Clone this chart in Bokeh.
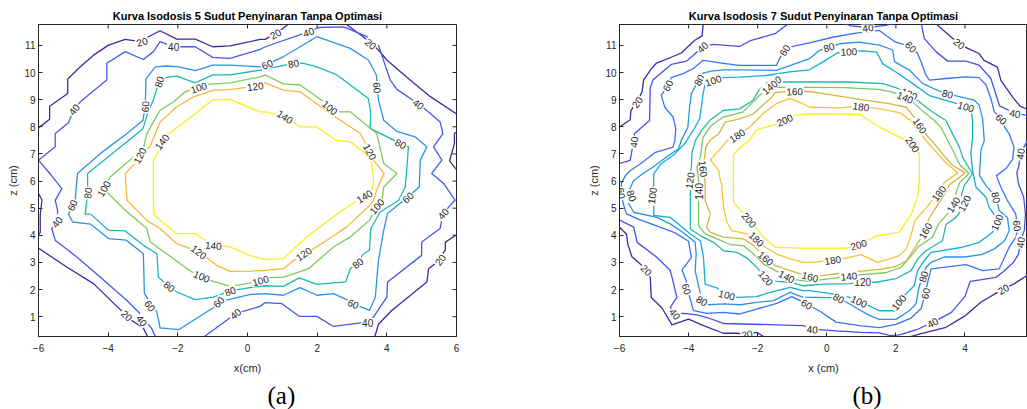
import math
from bokeh.plotting import figure
from bokeh.models import ColumnDataSource, Range1d, FixedTicker, Title
from bokeh.layouts import row
from bokeh.embed import file_html
from bokeh.resources import INLINE

# ---------------- data ----------------
TITLE_A = "Kurva Isodosis 5 Sudut Penyinaran Tanpa Optimasi"
TITLE_B = "Kurva Isodosis 7 Sudut Penyinaran Tanpa Optimasi"
X_TICKS = [-6, -4, -2, 0, 2, 4, 6]
Z_TICKS = [1, 2, 3, 4, 5, 6, 7, 8, 9, 10, 11]
LEVELS_A = [20, 40, 60, 80, 100, 120, 140]
LEVELS_B = [20, 40, 60, 80, 100, 120, 140, 160, 180, 200]
COLORS_A = ["#3e2aa2", "#4658f0", "#2a93e8", "#16bcb4", "#80ca58", "#f9b63c", "#f6f01c"]
COLORS_B = ["#3e2aa2", "#4650ea", "#3774f3", "#2994ea", "#14aed6", "#22bba2", "#7cc860", "#d0b83e", "#f8c233", "#f5f01c"]

# ---- panel (a) isodose lines (x, z in cm) ----
a20_tl = [(-6, 7.96), (-5.68, 8.28), (-5.68, 8.76), (-5.16, 9.23), (-5.16, 9.76), (-4.80, 10.21), (-4.42, 10.64),
          (-3.99, 11.01), (-3.51, 11.22), (-3.22, 11.17), (-2.84, 11.32), (-2.51, 11.54), (-2.03, 11.23), (-1.50, 11.23),
          (-1.0, 10.95), (-0.50, 10.98), (0.36, 11.22), (0.51, 11.22), (1.03, 11.63), (1.23, 11.85)]
a20_tr = [(2.76, 11.85), (3.33, 11.31), (3.76, 10.83), (4.0, 10.46), (4.67, 9.72), (5.25, 9.11), (6.05, 8.43)]
a20_r = [(6.05, 7.85), (5.94, 7.75), (5.94, 7.38), (5.80, 6.74), (6.05, 6.34)]
a20_l = [(-6.05, 5.66), (-5.9, 5.3), (-5.95, 4.75), (-5.95, 4.1), (-6.05, 3.95)]
a20_bl = [(-6.05, 3.57), (-5.19, 2.83), (-4.42, 2.22), (-3.75, 1.38), (-3.32, 0.86), (-2.99, 0.58), (-2.84, 0.2)]
a20_br = [(3.64, 0.2), (3.76, 0.72), (4.14, 1.23), (5.15, 2.28), (5.20, 2.77), (5.39, 2.96), (5.68, 3.45),
          (5.68, 3.75), (6.05, 4.06)]
a40 = [(-2.62, 0.2), (-2.75, 0.56), (-3.08, 1.11), (-3.46, 1.60), (-4.23, 2.46), (-4.90, 3.20), (-5.52, 3.82),
       (-5.62, 4.25), (-5.47, 4.49), (-5.45, 4.9), (-5.52, 5.29), (-5.33, 5.72), (-5.67, 6.27), (-6.0, 6.77),
       (-5.52, 7.26), (-5.52, 7.75), (-5.14, 8.15), (-4.98, 8.64), (-4.80, 8.92), (-4.04, 9.72), (-4.04, 10.34),
       (-3.51, 10.77), (-2.99, 10.48), (-2.70, 10.77), (-2.51, 11.14), (-2.12, 10.95), (-1.50, 10.95), (-1.0, 10.56),
       (-0.50, 10.52), (0.36, 10.85), (0.51, 10.95), (1.75, 11.50), (2.04, 11.66), (2.76, 11.68), (3.43, 11.32),
       (3.76, 11.01), (4.0, 10.09), (4.10, 9.72), (4.29, 9.38), (4.91, 8.84), (5.25, 8.49), (5.53, 8.18),
       (5.61, 7.75), (5.34, 7.26), (5.58, 6.77), (5.29, 6.28), (5.63, 5.91), (5.96, 5.30), (5.61, 4.80),
       (5.53, 4.25), (5.0, 3.75), (5.0, 3.26), (4.02, 2.28), (4.0, 1.72), (3.62, 0.99), (3.45, 0.77), (3.24, 0.77),
       (2.47, 0.64), (1.99, 1.01), (1.49, 1.01), (0.99, 1.48), (0.51, 1.52), (0.36, 1.38), (-0.35, 1.11),
       (-0.50, 0.96), (-1.31, 0.2)]
a60 = [(-1.98, 0.52), (-2.51, 0.59), (-2.60, 1.17), (-2.75, 1.45), (-2.96, 1.85), (-2.99, 3.32), (-3.48, 3.82),
       (-3.99, 3.88), (-4.50, 4.41), (-5.02, 4.49), (-5.14, 4.78), (-5.04, 5.11), (-4.95, 5.29), (-4.88, 6.28),
       (-4.23, 7.01), (-3.46, 7.75), (-3.0, 8.24), (-2.94, 8.74), (-2.92, 9.35), (-2.92, 9.76), (-2.65, 10.21),
       (-2.32, 10.24), (-1.98, 10.21), (-1.50, 10.07), (-1.0, 10.27), (-0.50, 10.27), (0.36, 10.21), (0.56, 10.31),
       (1.03, 10.58), (1.99, 11.32), (2.95, 10.89), (3.47, 10.46), (3.70, 9.91), (3.73, 9.45), (3.76, 8.99),
       (3.91, 8.24), (4.29, 7.83), (4.81, 7.63), (5.15, 7.26), (4.96, 6.77), (4.93, 5.78), (4.6, 5.40),
       (4.02, 4.80), (3.91, 4.18), (3.76, 3.08), (3.67, 1.72), (3.50, 1.23), (3.04, 1.48), (2.80, 1.66),
       (2.47, 1.85), (1.99, 1.79), (1.51, 2.07), (1.03, 1.79), (0.51, 1.85), (0.08, 1.82), (-0.83, 1.54),
       (-0.98, 1.33), (-1.98, 0.52)]
a80 = [(-4.50, 4.78), (-4.66, 4.78), (-4.59, 5.56), (-4.59, 6.28), (-3.89, 7.01), (-3.0, 7.93), (-2.87, 8.5),
       (-2.70, 9.0), (-2.54, 9.66), (-2.33, 9.82), (-2.03, 9.87), (-1.50, 9.62), (-1.0, 9.91), (-0.50, 9.91),
       (0.36, 10.09), (1.32, 10.34), (1.61, 10.34), (1.99, 10.21), (2.57, 9.91), (3.47, 9.04), (3.54, 8.49),
       (3.52, 7.94), (3.91, 7.69), (4.40, 7.38), (4.62, 7.26), (4.57, 6.40), (4.53, 5.78), (4.34, 5.29),
       (3.81, 4.86), (3.54, 4.25), (3.50, 3.45), (3.33, 3.32), (3.16, 2.98), (2.95, 2.77), (2.82, 2.28),
       (1.99, 2.19), (1.49, 2.43), (1.03, 2.12), (0.51, 2.14), (0.08, 2.07), (-0.50, 1.95), (-0.98, 1.72),
       (-1.50, 1.63), (-2.03, 1.91), (-2.24, 2.12), (-2.46, 2.34), (-2.56, 2.46), (-2.60, 3.32), (-2.99, 3.63),
       (-3.51, 4.16), (-3.99, 4.19), (-4.50, 4.78)]
a100 = [(-4.13, 5.72), (-3.94, 6.15), (-2.99, 7.20), (-2.89, 7.75), (-2.51, 8.61), (-2.12, 8.92), (-1.79, 9.29),
        (-1.40, 9.45), (-1.11, 9.57), (-0.50, 9.62), (0.36, 9.84), (0.51, 9.91), (1.03, 9.58), (1.51, 9.54),
        (2.13, 8.98), (2.37, 8.71), (2.66, 8.55), (2.95, 8.55), (3.71, 7.75), (3.91, 6.65), (4.29, 6.28),
        (3.91, 5.78), (3.86, 5.29), (3.71, 5.07), (3.50, 4.55), (2.95, 3.94), (2.47, 3.57), (1.75, 2.77),
        (1.49, 2.65), (1.03, 2.46), (0.65, 2.44), (0.37, 2.34), (-0.02, 2.22), (-0.50, 2.12), (-1.07, 2.34),
        (-1.31, 2.49), (-1.60, 2.65), (-2.79, 3.75), (-2.89, 4.25), (-3.51, 4.92), (-3.80, 5.29), (-4.13, 5.72)]
a120 = [(-3.51, 6.28), (-3.22, 6.65), (-3.10, 6.94), (-2.80, 7.26), (-2.51, 8.18), (-2.03, 8.74), (-1.55, 9.10),
        (-0.98, 9.35), (-0.50, 9.37), (0.22, 9.50), (0.51, 9.62), (1.03, 9.35), (1.51, 9.29), (2.37, 8.49),
        (2.95, 8.0), (3.24, 7.75), (3.52, 7.08), (3.62, 6.77), (3.92, 6.28), (3.71, 5.66), (3.62, 5.29),
        (3.47, 5.05), (2.85, 4.31), (2.28, 3.82), (1.90, 3.51), (1.61, 3.32), (1.27, 3.02), (1.03, 2.77),
        (0.51, 2.71), (0.08, 2.68), (-0.50, 2.67), (-0.88, 2.89), (-1.39, 3.39), (-2.03, 3.69), (-2.51, 4.25),
        (-2.89, 4.55), (-3.46, 5.29), (-3.51, 6.28)]
a140 = [(-2.70, 5.29), (-2.70, 6.77), (-2.56, 7.08), (-2.46, 7.45), (-2.32, 7.69), (-1.74, 8.24), (-1.02, 8.98),
        (-0.50, 9.01), (0.36, 8.55), (0.51, 8.55), (1.08, 8.37), (1.37, 8.12), (1.51, 8.0), (1.99, 8.0),
        (2.52, 7.51), (2.95, 7.45), (3.38, 7.02), (3.57, 6.65), (3.62, 6.03), (3.57, 5.66), (3.35, 5.44),
        (3.09, 5.23), (2.52, 4.74), (1.70, 3.94), (1.03, 3.14), (0.51, 3.11), (0.08, 3.25), (-0.50, 3.57),
        (-0.98, 3.63), (-1.50, 4.06), (-2.03, 4.06), (-2.68, 4.74), (-2.70, 5.29)]

# (level, x, z) of the inline labels of panel (a)
LABELS_A = [(20, -3.03, 11.14), (20, 0.80, 11.43), (20, 3.54, 11.06), (20, -3.46, 1.05), (20, 5.53, 3.10),
            (40, -4.98, 8.64), (40, -2.12, 10.95), (40, 1.75, 11.50), (40, 4.91, 8.84), (40, 5.61, 4.80),
            (40, 3.45, 0.77), (40, -0.35, 1.11), (40, -3.03, 0.86), (40, -5.47, 4.49),
            (60, -5.04, 5.11), (60, -2.94, 8.74), (60, 0.56, 10.31), (60, 3.73, 9.44), (60, 4.6, 5.40),
            (60, 3.04, 1.48), (60, -0.83, 1.54), (60, -2.79, 1.40),
            (80, -4.59, 5.56), (80, -2.54, 9.66), (80, 1.32, 10.34), (80, 4.40, 7.38), (80, 3.16, 2.98),
            (80, -0.50, 1.95), (80, -2.24, 2.12),
            (100, -4.13, 5.72), (100, -1.40, 9.45), (100, 2.37, 8.71), (100, 3.71, 5.07), (100, 0.37, 2.34),
            (100, -1.31, 2.49),
            (120, -3.10, 6.94), (120, 0.22, 9.50), (120, 3.52, 7.08), (120, 1.61, 3.32), (120, -1.39, 3.39),
            (140, -2.46, 7.45), (140, 1.08, 8.37), (140, 3.35, 5.44), (140, -0.98, 3.63)]

# ---- panel (b) isodose lines ----
b20_tl = [(-6.05, 7.95), (-5.69, 8.26), (-5.67, 8.60), (-5.49, 8.91), (-5.35, 9.28), (-5.30, 9.73), (-5.1, 10.1),
          (-4.93, 10.35), (-4.45, 10.59), (-4.21, 10.72), (-3.82, 11.19), (-3.61, 11.35), (-3.57, 11.85)]
b20_tr = [(3.11, 11.85), (3.64, 11.26), (3.84, 11.07), (4.08, 10.89), (4.41, 10.70), (4.55, 10.45), (4.94, 10.20),
          (5.04, 9.71), (5.38, 9.09), (5.6, 8.75), (5.9, 8.6)]
b20_bl = [(-6.05, 4.36), (-5.80, 4.05), (-5.76, 3.68), (-5.64, 3.21), (-5.40, 2.94), (-5.22, 2.72), (-5.11, 2.45),
          (-5.08, 1.71), (-4.77, 1.32), (-4.48, 0.70), (-4.0, 0.91), (-3.57, 0.67), (-2.99, 0.39), (-2.60, 0.39),
          (-2.31, 0.36), (-2.02, 0.42), (-1.74, 0.2)]
b20_br = [(2.24, 0.2), (2.68, 0.36), (3.45, 0.61), (3.98, 1.01), (4.46, 1.53), (4.89, 1.86), (5.11, 2.02),
          (5.42, 2.21), (5.9, 2.6)]
b40_tl = [(-6.05, 6.63), (-5.69, 6.76), (-5.64, 7.13), (-5.59, 7.43), (-5.57, 7.74), (-5.13, 8.23), (-5.11, 9.44),
          (-5.03, 9.73), (-4.50, 10.30), (-4.06, 10.42), (-3.87, 10.63), (-3.60, 10.94), (-3.29, 11.04),
          (-2.52, 10.96), (-2.21, 11.18), (-1.50, 11.43), (-1.06, 11.85)]
b40_top = [(0.4, 11.85), (0.7, 11.72), (1.19, 11.66), (1.7, 11.74), (2.1, 11.85)]
b40_r = [(2.73, 11.85), (2.82, 11.26), (3.16, 10.77), (3.50, 10.42), (4.03, 10.42), (4.41, 10.27), (4.75, 9.78),
         (4.9, 9.17), (5.0, 8.77), (5.45, 8.50), (5.9, 8.40)]
b40 = [(-6.05, 4.60), (-5.59, 4.30), (-5.49, 3.74), (-4.92, 3.19), (-4.53, 2.70), (-4.43, 2.20), (-4.34, 1.71),
       (-4.53, 1.34), (-4.39, 1.10), (-4.14, 1.12), (-3.76, 1.07), (-3.47, 0.97), (-2.99, 0.75), (-2.41, 0.73),
       (-1.45, 0.70), (-0.68, 0.67), (-0.42, 0.54), (0.27, 0.48), (1.0, 0.42), (1.52, 0.40), (1.85, 0.30),
       (2.1, 0.33), (2.6, 0.52), (3.06, 0.79), (3.6, 1.15), (4.0, 1.75), (4.15, 2.3), (4.4, 2.35), (4.89, 2.45),
       (5.1, 2.65), (5.4, 3.0), (5.55, 3.3), (5.6, 3.74), (5.72, 4.2), (5.75, 4.8), (5.7, 5.4), (5.55, 5.9),
       (5.5, 6.3), (5.56, 6.55), (5.6, 7.0), (5.9, 7.7)]
b60 = [(-4.61, 9.52), (-4.50, 9.81), (-4.16, 9.96), (-3.87, 10.14), (-3.58, 10.45), (-3.05, 10.35), (-2.52, 10.26),
       (-1.46, 10.26), (-1.37, 10.51), (-1.22, 10.82), (-0.98, 10.96), (-0.50, 11.09), (0.17, 11.3), (0.85, 11.45),
       (1.52, 11.55), (1.96, 11.14), (2.44, 10.95), (2.63, 10.70), (2.73, 10.40), (2.87, 9.90), (2.97, 9.72),
       (3.45, 9.78), (4.03, 9.84), (4.41, 9.81), (4.61, 9.54), (4.75, 9.04), (4.85, 8.55), (5.06, 8.29),
       (5.09, 8.11), (5.28, 7.74), (5.42, 7.25), (5.38, 6.8), (5.18, 6.45), (4.91, 6.2), (5.04, 5.77),
       (5.23, 5.28), (5.47, 4.79), (5.52, 4.30), (5.48, 3.93), (5.28, 3.56), (4.99, 2.76), (4.51, 2.70),
       (4.03, 2.92), (3.02, 2.76), (2.92, 2.27), (2.85, 1.86), (2.73, 1.3), (2.44, 0.95), (2.0, 0.72),
       (1.52, 0.60), (1.0, 0.66), (0.27, 0.80), (-0.2, 1.2), (-0.58, 1.47), (-1.01, 1.74), (-1.45, 1.49),
       (-2.03, 1.28), (-2.51, 1.10), (-2.99, 1.16), (-3.47, 1.12), (-3.86, 1.22), (-3.95, 1.65), (-4.05, 2.02),
       (-4.07, 2.33), (-4.19, 2.72), (-3.92, 3.19), (-4.0, 3.78), (-4.39, 4.09), (-4.77, 4.27), (-5.40, 4.57),
       (-5.80, 4.79), (-5.9, 5.2), (-5.94, 5.55), (-5.95, 5.9), (-5.83, 6.2), (-5.69, 6.39), (-5.40, 6.63),
       (-4.96, 7.06), (-4.45, 7.25), (-4.40, 7.49), (-4.37, 7.93), (-4.45, 8.36), (-4.69, 8.72), (-4.79, 9.16),
       (-4.61, 9.52)]
b80 = [(-3.70, 9.73), (-3.58, 9.98), (-3.34, 10.05), (-3.0, 10.10), (-2.52, 10.10), (-1.46, 10.08), (-1.13, 10.23),
       (-0.5, 10.51), (-0.21, 10.82), (0.06, 10.94), (0.37, 11.06), (0.94, 11.12), (1.52, 11.01), (1.91, 10.83),
       (1.96, 10.40), (2.39, 10.09), (2.77, 9.60), (3.26, 9.31), (3.50, 9.22), (3.74, 9.14), (4.27, 8.98),
       (4.41, 8.80), (4.51, 8.31), (4.56, 7.49), (4.46, 7.13), (4.42, 6.2), (4.61, 5.83), (4.91, 5.40),
       (4.99, 4.91), (5.23, 4.66), (5.28, 4.17), (5.15, 3.8), (4.85, 3.5), (4.5, 3.3), (4.0, 3.2), (3.4, 3.2),
       (3.02, 3.0), (2.87, 2.82), (2.79, 2.48), (2.68, 2.14), (2.58, 1.47), (2.39, 1.22), (2.0, 0.9), (1.52, 0.9),
       (1.23, 1.05), (0.66, 1.47), (0.35, 1.69), (-0.31, 1.71), (-0.68, 1.71), (-1.06, 1.90), (-1.54, 1.59),
       (-2.03, 1.53), (-2.51, 1.44), (-2.99, 1.47), (-3.42, 1.44), (-3.61, 1.59), (-3.66, 1.84), (-3.71, 2.14),
       (-3.81, 2.70), (-3.78, 3.31), (-3.81, 3.74), (-4.10, 4.05), (-4.53, 4.42), (-4.92, 4.66), (-5.59, 4.85),
       (-5.73, 5.16), (-5.64, 5.46), (-5.70, 5.7), (-5.6, 6.0), (-5.35, 6.25), (-5.05, 6.5), (-4.65, 6.88),
       (-4.29, 7.19), (-4.21, 7.50), (-4.02, 7.99), (-3.97, 8.73), (-3.92, 9.22), (-3.82, 9.46), (-3.70, 9.73)]
b100 = [(-3.29, 9.71), (-3.05, 9.81), (-2.52, 9.83), (-1.75, 9.89), (-1.08, 10.02), (-0.5, 10.1), (-0.1, 10.4),
        (0.3, 10.72), (0.64, 10.78), (1.04, 10.80), (1.45, 10.75), (1.62, 10.32), (2.0, 10.02), (2.49, 9.59),
        (2.97, 9.15), (3.45, 8.97), (4.03, 8.75), (4.18, 8.62), (4.22, 8.23), (4.22, 7.62), (4.17, 7.0),
        (4.22, 6.39), (4.32, 5.77), (4.61, 5.40), (4.70, 5.03), (4.85, 4.75), (4.92, 4.48), (4.80, 4.11),
        (4.41, 3.74), (3.93, 3.56), (3.02, 3.37), (2.82, 3.07), (2.63, 2.70), (2.53, 2.14), (2.29, 1.84),
        (2.08, 1.53), (1.96, 1.22), (1.52, 1.22), (1.23, 1.40), (0.94, 1.57), (0.66, 1.71), (0.17, 1.84),
        (-0.50, 1.96), (-0.68, 1.96), (-1.06, 2.08), (-1.64, 1.90), (-2.03, 1.74), (-2.60, 1.71), (-2.89, 1.81),
        (-3.18, 2.06), (-3.52, 2.20), (-3.57, 3.19), (-3.66, 3.80), (-3.95, 4.05), (-4.29, 4.42), (-4.53, 4.66),
        (-5.01, 4.73), (-5.01, 5.10), (-5.06, 5.46), (-5.01, 5.89), (-5.01, 6.26), (-4.80, 6.63), (-4.4, 7.0),
        (-4.1, 7.4), (-3.85, 7.9), (-3.68, 8.3), (-3.63, 8.73), (-3.58, 9.22), (-3.53, 9.52), (-3.29, 9.71)]
b120 = [(-1.56, 9.65), (-1.94, 9.40), (-2.14, 8.97), (-2.52, 8.66), (-3.0, 8.60), (-3.39, 8.23), (-3.63, 7.86),
        (-3.80, 7.5), (-3.90, 7.06), (-3.92, 6.51), (-3.97, 6.02), (-3.95, 5.65), (-3.95, 4.23), (-3.66, 3.99),
        (-3.28, 3.74), (-2.99, 3.43), (-2.60, 3.37), (-2.31, 3.16), (-2.03, 2.82), (-1.76, 2.43), (-1.45, 2.30),
        (-1.06, 2.27), (-0.68, 2.14), (-0.02, 2.20), (0.66, 2.22), (1.04, 2.27), (1.43, 2.27), (2.0, 2.40),
        (2.44, 2.70), (2.63, 3.13), (2.87, 3.43), (3.35, 3.8), (3.45, 4.4), (3.74, 4.66), (3.85, 4.85),
        (3.98, 5.18), (3.90, 5.5), (3.98, 5.83), (4.22, 6.26), (3.93, 6.88), (3.84, 7.25), (3.64, 7.74),
        (3.45, 8.23), (3.3, 8.35), (3.0, 8.6), (2.63, 8.97), (2.39, 9.22), (2.0, 9.44), (1.62, 9.59),
        (0.66, 9.65), (-0.50, 9.65), (-1.08, 9.65), (-1.56, 9.65)]
b140 = [(-1.66, 9.46), (-1.94, 9.16), (-2.43, 8.54), (-3.0, 8.36), (-3.34, 8.05), (-3.58, 7.62), (-3.66, 6.88),
        (-3.76, 6.51), (-3.71, 6.05), (-3.71, 5.62), (-3.71, 5.16), (-3.71, 4.36), (-3.52, 4.05), (-3.18, 3.87),
        (-2.80, 3.66), (-2.41, 3.62), (-2.12, 3.31), (-1.83, 2.94), (-1.49, 2.70), (-1.16, 2.48), (-0.87, 2.36),
        (-0.5, 2.30), (0.2, 2.42), (0.64, 2.50), (1.1, 2.56), (1.7, 2.62), (2.15, 2.82), (2.45, 3.25),
        (2.65, 3.58), (3.05, 3.92), (3.25, 4.45), (3.5, 4.8), (3.66, 5.13), (3.75, 5.6), (3.85, 5.95),
        (4.12, 6.28), (3.85, 6.6), (3.72, 6.95), (3.52, 7.45), (3.32, 7.95), (3.1, 8.25), (2.8, 8.55),
        (2.5, 8.9), (2.27, 9.09), (1.9, 9.28), (1.5, 9.38), (0.5, 9.44), (-0.5, 9.45), (-1.2, 9.45),
        (-1.66, 9.46)]
b160 = [(-0.93, 9.31), (-1.16, 9.30), (-1.50, 9.26), (-1.59, 9.09), (-1.83, 8.82), (-2.12, 8.48), (-2.51, 8.29),
        (-2.94, 8.17), (-3.13, 7.74), (-3.38, 7.5), (-3.50, 7.25), (-3.55, 6.76), (-3.57, 6.45), (-3.52, 5.89),
        (-3.52, 5.28), (-3.37, 4.79), (-3.48, 4.30), (-3.37, 4.11), (-2.99, 3.93), (-2.41, 3.87), (-2.12, 3.62),
        (-1.76, 3.16), (-1.49, 2.88), (-1.06, 2.70), (-0.68, 2.55), (-0.48, 2.48), (-0.1, 2.52), (0.5, 2.62),
        (1.0, 2.68), (1.6, 2.75), (2.0, 2.85), (2.3, 3.05), (2.5, 3.45), (2.7, 3.85), (2.85, 4.17), (2.95, 4.6),
        (3.12, 4.95), (3.35, 5.4), (3.55, 5.85), (4.0, 6.3), (3.62, 6.6), (3.35, 7.0), (3.1, 7.4), (2.88, 7.7),
        (2.70, 8.05), (2.5, 8.4), (2.3, 8.72), (1.8, 8.85), (1.0, 9.0), (0.0, 9.2), (-0.5, 9.3), (-0.93, 9.31)]
b180 = [(-2.60, 7.68), (-2.23, 7.99), (-1.85, 8.48), (-1.46, 8.85), (-1.08, 9.05), (-0.69, 8.85), (-0.5, 8.72),
        (0.3, 8.70), (0.99, 8.75), (1.6, 8.65), (2.15, 8.5), (2.45, 8.2), (2.65, 7.85), (2.9, 7.45), (3.18, 7.05),
        (3.42, 6.7), (3.8, 6.3), (3.4, 5.95), (3.24, 5.6), (3.15, 5.45), (2.9, 5.05), (2.55, 4.54), (2.42, 3.93),
        (2.3, 3.5), (2.1, 3.25), (1.8, 3.12), (1.47, 3.0), (0.99, 3.29), (0.56, 3.16), (0.17, 3.09),
        (-0.40, 3.0), (-0.68, 3.0), (-1.06, 3.13), (-1.45, 3.31), (-1.78, 3.56), (-2.03, 3.87), (-2.31, 4.05),
        (-2.75, 4.17), (-2.89, 4.48), (-2.99, 5.03), (-3.04, 5.89), (-3.08, 6.02), (-3.13, 6.39), (-3.37, 6.78),
        (-3.04, 7.25), (-2.89, 7.49), (-2.60, 7.68)]
b200 = [(-1.22, 8.25), (-0.93, 8.42), (-0.50, 8.48), (0.94, 8.46), (1.52, 7.99), (2.10, 7.62), (2.49, 7.35),
        (2.68, 7.0), (2.68, 6.02), (2.63, 5.40), (2.45, 4.79), (2.10, 4.11), (1.47, 3.99), (0.92, 3.66),
        (0.56, 3.53), (-0.79, 3.53), (-1.50, 3.56), (-1.83, 3.93), (-2.24, 4.57), (-2.70, 5.22), (-2.70, 6.39),
        (-2.70, 7.0), (-2.4, 7.35), (-2.23, 7.50), (-2.04, 7.89), (-1.46, 8.09), (-1.22, 8.25)]

LABELS_B = [(20, -5.49, 8.91), (20, 3.84, 11.07), (20, -5.22, 2.72), (20, -2.31, 0.36), (20, 5.11, 2.02),
            (40, -5.59, 7.43), (40, -3.60, 10.94), (40, 1.19, 11.66), (40, 5.45, 8.50), (40, 5.6, 7.0),
            (40, 5.6, 3.74), (40, 3.06, 0.79), (40, -0.42, 0.54), (40, -4.39, 1.10),
            (60, -4.61, 9.52), (60, -1.22, 10.82), (60, 2.44, 10.95), (60, 5.06, 8.29), (60, 5.52, 4.35),
            (60, 2.85, 1.86), (60, -0.58, 1.47), (60, -4.05, 2.02), (60, -5.94, 5.55),
            (80, -3.70, 9.73), (80, 0.06, 10.94), (80, 3.50, 9.22), (80, 4.91, 5.40), (80, 2.79, 2.48),
            (80, 0.35, 1.69), (80, -3.61, 1.59), (80, -5.64, 5.46),
            (100, -3.29, 9.71), (100, 0.64, 10.78), (100, 4.03, 8.75), (100, 4.92, 4.48), (100, 2.08, 1.53),
            (100, 0.94, 1.57), (100, -2.89, 1.81), (100, -5.06, 5.46),
            (120, -1.56, 9.65), (120, 2.39, 9.22), (120, 3.98, 5.18), (120, 1.04, 2.27), (120, -1.76, 2.43),
            (120, -3.97, 6.02),
            (140, -1.66, 9.46), (140, 2.27, 9.09), (140, 3.66, 5.13), (140, 0.64, 2.50), (140, -1.16, 2.48),
            (140, -3.71, 5.62),
            (160, -0.93, 9.31), (160, 2.70, 8.05), (160, 2.85, 4.17), (160, -0.48, 2.48), (160, -1.76, 3.16),
            (160, -3.57, 6.45),
            (180, -2.60, 7.68), (180, 0.99, 8.75), (180, 3.24, 5.55), (180, 0.17, 3.09), (180, -2.03, 3.87),
            (200, -1.22, 8.25), (200, 2.49, 7.35), (200, 0.92, 3.66), (200, -2.24, 4.57)]

CONTOURS_A = {20: [a20_tl, a20_tr, a20_r, a20_l, a20_bl, a20_br], 40: [a40], 60: [a60], 80: [a80],
              100: [a100], 120: [a120], 140: [a140]}
CONTOURS_B = {20: [b20_tl, b20_tr, b20_bl, b20_br], 40: [b40_tl, b40_top, b40_r, b40], 60: [b60], 80: [b80],
              100: [b100], 120: [b120], 140: [b140], 160: [b160], 180: [b180], 200: [b200]}

AX = "#262626"
FONT = "Liberation Sans"
Z_RANGE = (0.27, 11.77)
HEIGHT = 409
BORDER_TOP = 24
FRAME_H = 312


def label_angle(lines, x, z, sx, sz):
    best = None
    for ln in lines:
        for (x1, z1), (x2, z2) in zip(ln[:-1], ln[1:]):
            ax_, az_ = x1 * sx, z1 * sz
            dx, dz = (x2 - x1) * sx, (z2 - z1) * sz
            px, pz = x * sx, z * sz
            L2 = dx * dx + dz * dz
            t = 0.0 if L2 == 0 else max(0.0, min(1.0, ((px - ax_) * dx + (pz - az_) * dz) / L2))
            d = (ax_ + t * dx - px) ** 2 + (az_ + t * dz - pz) ** 2
            if best is None or d < best[0]:
                best = (d, dx, dz)
    ang = math.atan2(best[2], best[1])
    if ang > math.pi / 2:
        ang -= math.pi
    if ang <= -math.pi / 2:
        ang += math.pi
    return ang


def make_panel(title, xlab, sub, levels, colors, contours, labels, width, xr, border_l, border_r,
               title_off, xlab_off, sub_off, right_ticks):
    p = figure(width=width, height=HEIGHT, x_range=Range1d(*xr), y_range=Range1d(*Z_RANGE),
               output_backend="svg", toolbar_location=None, min_border_left=border_l,
               min_border_right=border_r, min_border_top=BORDER_TOP,
               min_border_bottom=HEIGHT - BORDER_TOP - FRAME_H,
               background_fill_color="white", border_fill_color="white")
    p.outline_line_color = AX
    p.outline_line_width = 1
    p.xgrid.visible = False
    p.ygrid.visible = False
    p.title.text = title
    p.title.align = "center"
    p.title.text_font = FONT
    p.title.text_font_size = "11px"
    p.title.text_font_style = "bold"
    p.title.text_color = "black"
    p.title.standoff = 5
    p.title.offset = title_off

    frame_w = width - border_l - border_r
    sx = frame_w / (xr[1] - xr[0])
    sz = FRAME_H / (Z_RANGE[1] - Z_RANGE[0])

    xs, ys, cs = [], [], []
    for lev, col in zip(levels, colors):
        for ln in contours[lev]:
            xs.append([q[0] for q in ln])
            ys.append([q[1] for q in ln])
            cs.append(col)
    p.multi_line(xs="xs", ys="ys", line_color="c", line_width=1.3, line_join="round",
                 source=ColumnDataSource(dict(xs=xs, ys=ys, c=cs)))

    lx, lz, lt, la = [], [], [], []
    for lev, x, z in labels:
        lx.append(x)
        lz.append(z)
        lt.append(str(lev))
        la.append(label_angle(contours[lev], x, z, sx, sz))
    p.text(x="x", y="z", text="t", angle="a", source=ColumnDataSource(dict(x=lx, z=lz, t=lt, a=la)),
           text_align="center", text_baseline="middle", text_font_size="10px", text_font={"value": FONT},
           text_color=AX, background_fill_color="white", padding=1)

    # inward ticks on the top (and right) side of the box, from the tick arrays
    tx = [t for t in X_TICKS if xr[0] <= t <= xr[1]]
    p.segment(x0=tx, y0=[Z_RANGE[1]] * len(tx), x1=tx, y1=[Z_RANGE[1] - 4.0 / sz] * len(tx),
              line_color=AX, line_width=1)
    if right_ticks:
        p.segment(x0=[xr[1]] * len(Z_TICKS), y0=Z_TICKS, x1=[xr[1] - 4.0 / sx] * len(Z_TICKS), y1=Z_TICKS,
                  line_color=AX, line_width=1)

    for ax in (p.xaxis[0], p.yaxis[0]):
        ax.major_tick_in = 4
        ax.major_tick_out = 0
        ax.minor_tick_in = 0
        ax.minor_tick_out = 0
        ax.axis_line_color = AX
        ax.major_tick_line_color = AX
        ax.major_label_text_color = AX
        ax.major_label_text_font = FONT
        ax.major_label_text_font_size = "10px"
    p.xaxis[0].ticker = FixedTicker(ticks=X_TICKS)
    p.xaxis[0].major_label_standoff = 7
    p.yaxis[0].ticker = FixedTicker(ticks=Z_TICKS)
    p.yaxis[0].major_label_standoff = 3
    p.yaxis[0].axis_label = "z (cm)"
    p.yaxis[0].axis_label_text_font = FONT
    p.yaxis[0].axis_label_text_font_size = "11px"
    p.yaxis[0].axis_label_text_font_style = "normal"
    p.yaxis[0].axis_label_text_color = AX
    p.yaxis[0].axis_label_standoff = 2

    p.add_layout(Title(text=xlab, align="center", offset=xlab_off, text_font=FONT, text_font_size="11px",
                       text_font_style="normal", text_color=AX, standoff=10), "below")
    p.add_layout(Title(text=sub, align="left", offset=sub_off, text_font="Liberation Serif",
                       text_font_size="25px", text_font_style="normal", text_color="black", standoff=2),
                 "below")
    return p


pa = make_panel(TITLE_A, "x(cm)", "(a)", LEVELS_A, COLORS_A, CONTOURS_A, LABELS_A, 582, (-6, 6), 38, 126,
                0, 0, 229, True)
pb = make_panel(TITLE_B, "x (cm)", "(b)", LEVELS_B, COLORS_B, CONTOURS_B, LABELS_B, 445, (-6, 5.81), 37, 0,
                3, 4, 233, False)

layout = row(pa, pb)
open("out.html", "w").write(file_html(layout, INLINE))
